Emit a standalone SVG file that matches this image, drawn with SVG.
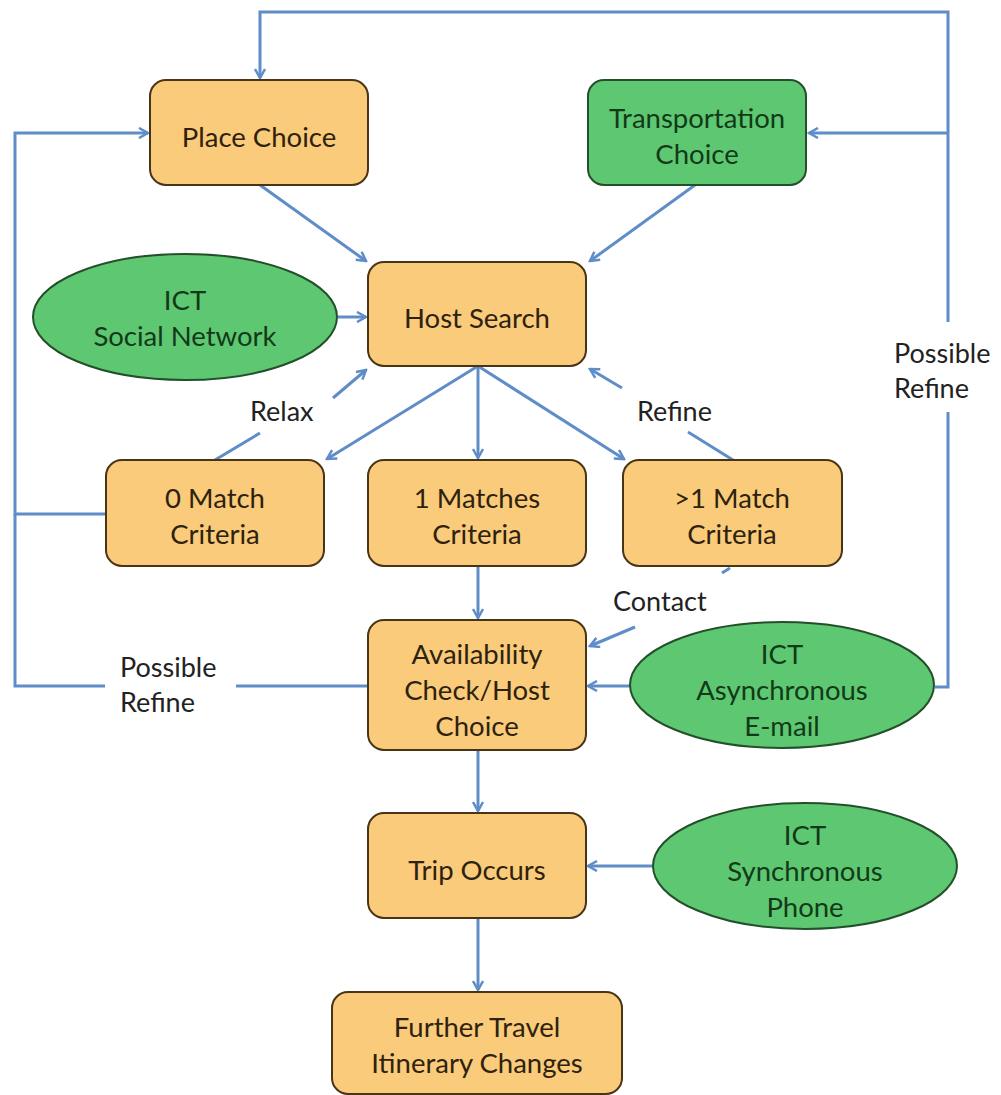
<svg xmlns="http://www.w3.org/2000/svg" width="1001" height="1095" viewBox="0 0 1001 1095">
<style>
.box{fill:#F9CB7B;stroke:#4a3416;stroke-width:2}
.gbox{fill:#5EC772;stroke:#23502a;stroke-width:2}
.t{font-family:Lato,"Open Sans",sans-serif;font-size:27.5px;fill:#2e220e;text-anchor:middle}
.gt{font-family:Lato,"Open Sans",sans-serif;font-size:27.5px;fill:#123a18;text-anchor:middle}
.lbl{font-family:Lato,"Open Sans",sans-serif;font-size:27px;fill:#222;text-anchor:start}
.c{fill:none;stroke:#5F8DC8;stroke-width:3}
.a{marker-end:url(#ah)}
</style>
<defs>
<marker id="ah" viewBox="0 0 12 12" refX="10" refY="6" markerWidth="12" markerHeight="12" markerUnits="userSpaceOnUse" orient="auto">
<path d="M1,1 L10,6 L1,11" fill="none" stroke="#5F8DC8" stroke-width="2.5"/>
</marker>
</defs>
<rect width="1001" height="1095" fill="#fff"/>
<g id="connectors">
<polyline class="c" points="935,687 948,687 948,412"/>
<polyline class="c a" points="948,322 948,12 260,12 260,78"/>
<line class="c a" x1="948" y1="133" x2="809" y2="133"/>
<polyline class="c a" points="105,514 15,514 15,133 148,133"/>
<polyline class="c" points="15,514 15,686 105,686"/>
<line class="c" x1="236" y1="686" x2="368" y2="686"/>
<line class="c a" x1="260" y1="185" x2="366" y2="261"/>
<line class="c a" x1="695" y1="185" x2="590" y2="261"/>
<line class="c a" x1="338" y1="317" x2="366" y2="317"/>
<line class="c" x1="215" y1="460" x2="260" y2="433"/>
<line class="c a" x1="333" y1="398" x2="366" y2="370"/>
<line class="c a" x1="478" y1="366" x2="327" y2="459"/>
<line class="c a" x1="478" y1="366" x2="478" y2="458"/>
<line class="c a" x1="478" y1="366" x2="624" y2="459"/>
<line class="c" x1="733" y1="460" x2="688" y2="432"/>
<line class="c a" x1="622" y1="388" x2="590" y2="369"/>
<line class="c" x1="730" y1="568" x2="722" y2="573"/>
<line class="c a" x1="635" y1="627" x2="590" y2="646"/>
<line class="c a" x1="478" y1="566" x2="478" y2="618"/>
<line class="c a" x1="630" y1="686" x2="588" y2="686"/>
<line class="c a" x1="478" y1="750" x2="478" y2="811"/>
<line class="c a" x1="653" y1="866" x2="588" y2="866"/>
<line class="c a" x1="478" y1="918" x2="478" y2="990"/>
</g>
<g id="lbl-possible-refine-right"><text class="lbl" x="894" y="363">Possible</text><text class="lbl" x="894" y="398">Refine</text></g>
<g id="lbl-possible-refine-left"><text class="lbl" x="120" y="677">Possible</text><text class="lbl" x="120" y="712">Refine</text></g>
<g id="lbl-relax"><text class="lbl" x="250" y="421">Relax</text></g>
<g id="lbl-refine"><text class="lbl" x="637" y="421">Refine</text></g>
<g id="lbl-contact"><text class="lbl" x="613" y="611">Contact</text></g>
<g id="place-choice"><rect class="box" x="150" y="80" width="218" height="105" rx="16"/><text class="t" x="259" y="147">Place Choice</text></g>
<g id="transportation-choice"><rect class="gbox" x="588" y="80" width="218" height="105" rx="16"/><text class="gt" x="697" y="128">Transportation</text><text class="gt" x="697" y="164">Choice</text></g>
<g id="host-search"><rect class="box" x="368" y="262" width="218" height="104" rx="16"/><text class="t" x="477" y="328">Host Search</text></g>
<g id="ict-social"><ellipse class="gbox" cx="185" cy="317" rx="152" ry="63"/><text class="gt" x="185" y="310">ICT</text><text class="gt" x="185" y="346">Social Network</text></g>
<g id="zero-match"><rect class="box" x="106" y="460" width="218" height="106" rx="16"/><text class="t" x="215" y="508">0 Match</text><text class="t" x="215" y="544">Criteria</text></g>
<g id="one-match"><rect class="box" x="368" y="460" width="218" height="106" rx="16"/><text class="t" x="477" y="508">1 Matches</text><text class="t" x="477" y="544">Criteria</text></g>
<g id="gt-one-match"><rect class="box" x="623" y="460" width="219" height="106" rx="16"/><text class="t" x="732" y="508">&gt;1 Match</text><text class="t" x="732" y="544">Criteria</text></g>
<g id="availability"><rect class="box" x="368" y="620" width="218" height="130" rx="16"/><text class="t" x="477" y="664">Availability</text><text class="t" x="477" y="700">Check/Host</text><text class="t" x="477" y="736">Choice</text></g>
<g id="ict-async"><ellipse class="gbox" cx="782" cy="685" rx="152" ry="63"/><text class="gt" x="782" y="664">ICT</text><text class="gt" x="782" y="700">Asynchronous</text><text class="gt" x="782" y="736">E-mail</text></g>
<g id="trip-occurs"><rect class="box" x="368" y="813" width="218" height="105" rx="16"/><text class="t" x="477" y="880">Trip Occurs</text></g>
<g id="ict-sync"><ellipse class="gbox" cx="805" cy="866" rx="152" ry="63"/><text class="gt" x="805" y="845">ICT</text><text class="gt" x="805" y="881">Synchronous</text><text class="gt" x="805" y="917">Phone</text></g>
<g id="further-travel"><rect class="box" x="332" y="992" width="290" height="102" rx="16"/><text class="t" x="477" y="1037">Further Travel</text><text class="t" x="477" y="1073">Itinerary Changes</text></g>
</svg>
